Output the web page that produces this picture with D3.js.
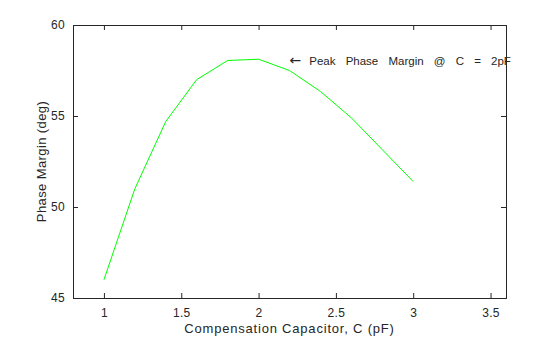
<!DOCTYPE html>
<html><head><meta charset="utf-8">
<script src="https://cdn.jsdelivr.net/npm/d3@7"></script>
<style>body{margin:0;background:#fff}svg{display:block}text{font-family:"Liberation Sans",Arial,sans-serif;fill:#262626}</style>
</head><body><svg id="c" width="560" height="337"></svg>
<script>
const capacitance = [1.0, 1.2, 1.4, 1.6, 1.8, 2.0, 2.2, 2.4, 2.6, 2.8, 3.0];
const phaseMargin = [46.0, 51.0, 54.7, 57.0, 58.05, 58.12, 57.5, 56.35, 54.9, 53.15, 51.4];
const xTicks = [1, 1.5, 2, 2.5, 3, 3.5];
const yTicks = [45, 50, 55, 60];
const annotation = {x: 2.2, y: 58, arrow: "\u2190", words: ["Peak", "Phase", "Margin", "@", "C", "=", "2pF"]};

const svg = d3.select("#c");
const L = 73, R = 506, T = 25, B = 298;
const x = d3.scaleLinear().domain([0.8, 3.6]).range([L, R]);
const y = d3.scaleLinear().domain([45, 60]).range([B, T]);
const tk = 5;

const g = svg.append("g");
const bx = g.append("g").attr("transform", `translate(0,${B})`)
  .call(d3.axisBottom(x).tickValues(xTicks).tickSize(-tk).tickPadding(10).tickFormat(d3.format("")));
const tx = g.append("g").attr("transform", `translate(0,${T})`)
  .call(d3.axisTop(x).tickValues(xTicks).tickSize(-tk).tickFormat(""));
const ly = g.append("g").attr("transform", `translate(${L},0)`)
  .call(d3.axisLeft(y).tickValues(yTicks).tickSize(-tk).tickPadding(8).tickFormat(d3.format("")));
const ry = g.append("g").attr("transform", `translate(${R},0)`)
  .call(d3.axisRight(y).tickValues(yTicks).tickSize(-tk).tickFormat(""));
[bx, tx, ly, ry].forEach(a => {
  a.select(".domain").attr("stroke", "#262626").attr("stroke-width", 1);
  a.selectAll(".tick line").attr("stroke", "#262626");
  a.selectAll(".tick text").attr("font-size", 12).attr("fill", "#262626").attr("letter-spacing", 0.3)
    .style("font-family", '"Liberation Sans",Arial,sans-serif');
});

const line = d3.line().x((d, i) => x(capacitance[i])).y(d => y(d));
svg.append("path").datum(phaseMargin).attr("d", line)
  .attr("fill", "none").attr("stroke", "#00ff00").attr("stroke-width", 1);

const ann = svg.append("text").attr("x", x(annotation.x)).attr("y", y(annotation.y))
  .attr("dy", "0.35em").attr("font-size", 11.5).attr("word-spacing", 7);
ann.append("tspan").attr("font-size", 14).style("font-family", '"DejaVu Sans",sans-serif').text(annotation.arrow);
ann.append("tspan").attr("dx", 8).text(annotation.words.join(" "));

svg.append("text").attr("x", (L + R) / 2).attr("y", 333).attr("text-anchor", "middle")
  .attr("font-size", 13).attr("letter-spacing", 0.8).text("Compensation Capacitor, C (pF)");
svg.append("text").attr("transform", `translate(46,${(T + B) / 2}) rotate(-90)`)
  .attr("text-anchor", "middle").attr("font-size", 13).attr("letter-spacing", 0.4).text("Phase Margin (deg)");
</script></body></html>
